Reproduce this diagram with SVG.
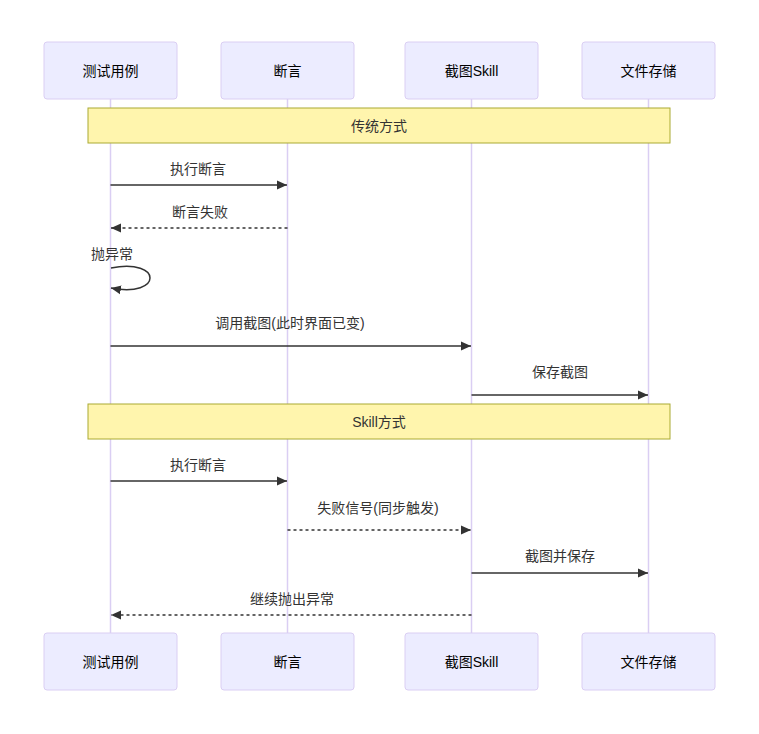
<svg xmlns="http://www.w3.org/2000/svg" width="759" height="734" viewBox="0 0 759 734">
<style>
text{font-family:"Liberation Sans","Noto Sans CJK SC",sans-serif;font-size:14px;fill:#333;text-anchor:middle;dominant-baseline:central}
.actor{fill:#ECECFF;stroke:#dacef3;stroke-width:1}
.life{stroke:#dacef3;stroke-width:1.5}
.note{fill:#fff5ad;stroke:#aaaa33;stroke-width:1}
.msg{stroke:#333;stroke-width:1.5;fill:none;marker-end:url(#arrow)}
.dash{stroke-dasharray:3,3}
.actor-text{fill:#000}
</style>
<defs>
<marker id="arrow" viewBox="0 0 10 10" refX="10" refY="5" markerWidth="10" markerHeight="10" markerUnits="userSpaceOnUse" orient="auto">
<path d="M0,0.5 L10,5 L0,9.5 z" fill="#333"/>
</marker>
</defs>
<rect width="759" height="734" fill="#fff"/>
<g id="lifelines">
<line class="life" x1="110.5" y1="99" x2="110.5" y2="633"/>
<line class="life" x1="287.5" y1="99" x2="287.5" y2="633"/>
<line class="life" x1="471.5" y1="99" x2="471.5" y2="633"/>
<line class="life" x1="648.5" y1="99" x2="648.5" y2="633"/>
</g>
<g id="actor-test-top"><rect class="actor" x="44" y="42" width="133" height="57" rx="3"/><text class="actor-text" x="110.5" y="71">测试用例</text></g>
<g id="actor-assert-top"><rect class="actor" x="221" y="42" width="133" height="57" rx="3"/><text class="actor-text" x="287.5" y="71">断言</text></g>
<g id="actor-skill-top"><rect class="actor" x="405" y="42" width="133" height="57" rx="3"/><text class="actor-text" x="471.5" y="71">截图Skill</text></g>
<g id="actor-file-top"><rect class="actor" x="582" y="42" width="133" height="57" rx="3"/><text class="actor-text" x="648.5" y="71">文件存储</text></g>
<g id="actor-test-bottom"><rect class="actor" x="44" y="633" width="133" height="57" rx="3"/><text class="actor-text" x="110.5" y="662">测试用例</text></g>
<g id="actor-assert-bottom"><rect class="actor" x="221" y="633" width="133" height="57" rx="3"/><text class="actor-text" x="287.5" y="662">断言</text></g>
<g id="actor-skill-bottom"><rect class="actor" x="405" y="633" width="133" height="57" rx="3"/><text class="actor-text" x="471.5" y="662">截图Skill</text></g>
<g id="actor-file-bottom"><rect class="actor" x="582" y="633" width="133" height="57" rx="3"/><text class="actor-text" x="648.5" y="662">文件存储</text></g>
<g id="note-traditional"><rect class="note" x="88" y="108" width="582" height="35"/><text x="379" y="126">传统方式</text></g>
<g id="note-skill"><rect class="note" x="88" y="404" width="582" height="35"/><text x="379" y="422">Skill方式</text></g>
<g id="connectors">
<line class="msg" x1="110.5" y1="185" x2="287" y2="185"/>
<text x="198" y="169">执行断言</text>
<line class="msg dash" x1="287.5" y1="228" x2="111" y2="228"/>
<text x="200" y="212">断言失败</text>
<path class="msg" d="M111,268 C163,258 163,298 111,288"/>
<text x="112" y="254">抛异常</text>
<line class="msg" x1="110.5" y1="346" x2="471" y2="346"/>
<text x="290" y="323">调用截图(此时界面已变)</text>
<line class="msg" x1="471.5" y1="395" x2="648" y2="395"/>
<text x="560" y="372">保存截图</text>
<line class="msg" x1="110.5" y1="481" x2="287" y2="481"/>
<text x="198" y="465">执行断言</text>
<line class="msg dash" x1="287.5" y1="530" x2="471" y2="530"/>
<text x="378" y="508">失败信号(同步触发)</text>
<line class="msg" x1="471.5" y1="573" x2="648" y2="573"/>
<text x="560" y="556">截图并保存</text>
<line class="msg dash" x1="471.5" y1="615" x2="111" y2="615"/>
<text x="292" y="599">继续抛出异常</text>
</g>
</svg>
